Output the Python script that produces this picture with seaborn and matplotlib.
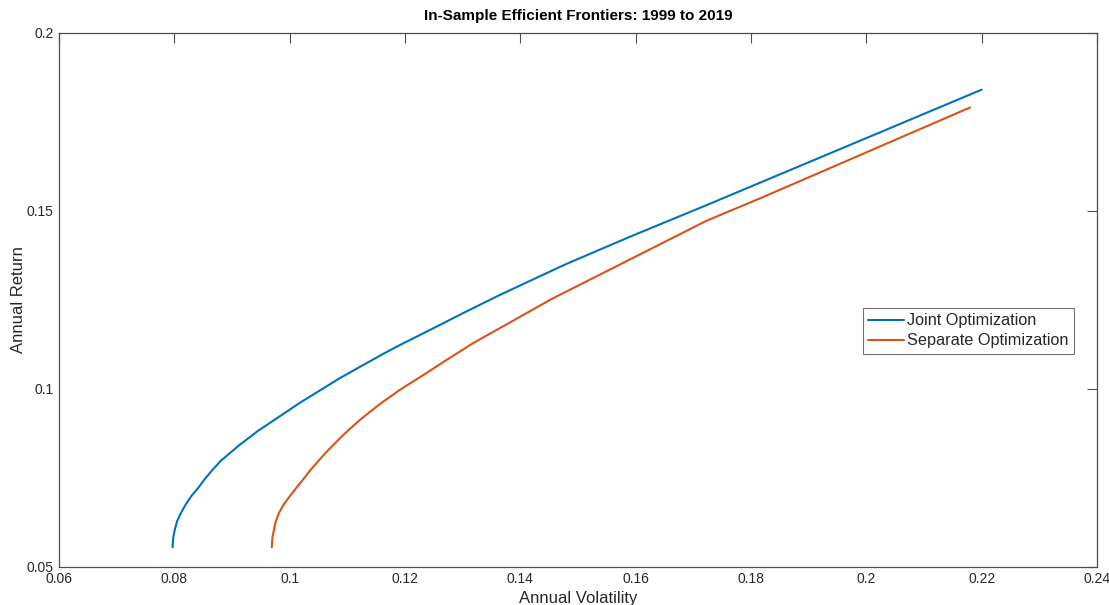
import numpy as np
import pandas as pd
import matplotlib
matplotlib.use("Agg")
import matplotlib.pyplot as plt
from matplotlib.ticker import FormatStrFormatter
import seaborn as sns

joint_vol = [0.0797, 0.0798, 0.0801, 0.0805, 0.0812, 0.0820, 0.0830, 0.0842, 0.0853, 0.0865,
             0.0880, 0.0912, 0.0946, 0.0972, 0.1016, 0.1087, 0.1162, 0.1190, 0.1243,
             0.1305, 0.1365, 0.1479, 0.1590, 0.1710, 0.1816, 0.2200]
joint_ret = [0.0555, 0.0582, 0.0606, 0.0629, 0.0653, 0.0676, 0.0700, 0.0723, 0.0747, 0.0770,
             0.0797, 0.0841, 0.0883, 0.0911, 0.0959, 0.1030, 0.1098, 0.1122, 0.1165,
             0.1216, 0.1264, 0.1350, 0.1427, 0.1507, 0.1579, 0.1840]
sep_vol = [0.0969, 0.0970, 0.0973, 0.0976, 0.0982, 0.0990, 0.1001, 0.1012, 0.1024, 0.1035,
           0.1061, 0.1087, 0.1102, 0.1122, 0.1157, 0.1191, 0.1232, 0.1272, 0.1318,
           0.1454, 0.1723, 0.1816, 0.2180]
sep_ret = [0.0555, 0.0582, 0.0606, 0.0629, 0.0653, 0.0676, 0.0700, 0.0723, 0.0747, 0.0770,
           0.0818, 0.0861, 0.0884, 0.0913, 0.0958, 0.0997, 0.1039, 0.1081, 0.1128,
           0.1252, 0.1472, 0.1535, 0.1790]
series_names = ["Joint Optimization", "Separate Optimization"]
x_ticks = [0.06, 0.08, 0.10, 0.12, 0.14, 0.16, 0.18, 0.20, 0.22, 0.24]
y_ticks = [0.05, 0.10, 0.15, 0.20]

df = pd.concat([
    pd.DataFrame({"vol": joint_vol, "ret": joint_ret, "series": series_names[0]}),
    pd.DataFrame({"vol": sep_vol, "ret": sep_ret, "series": series_names[1]}),
])

sns.set_style("white")
plt.rcParams['font.family'] = ['Liberation Sans', 'DejaVu Sans']

fig = plt.figure(figsize=(11.09, 6.05), dpi=100)
ax = fig.add_axes([0.0532, 0.0630, 0.9360, 0.8830])
sns.lineplot(data=df, x="vol", y="ret", hue="series", sort=False, estimator=None,
             palette=["#0072BD", "#D95319"], linewidth=1.5, ax=ax)

ax.set_xlim(0.06, 0.24)
ax.set_ylim(0.05, 0.20)
ax.set_xticks(x_ticks)
ax.set_yticks(y_ticks)
ax.xaxis.set_major_formatter(FormatStrFormatter('%g'))
ax.yaxis.set_major_formatter(FormatStrFormatter('%g'))
ax.tick_params(direction='in', length=7, width=0.8, color='#4d4d4d', labelsize=10,
               labelcolor='#262626', top=True, right=True, pad=4)
for s in ax.spines.values():
    s.set_color('#4d4d4d')
    s.set_linewidth(0.9)

ax.set_xlabel("Annual Volatility", fontsize=12, color='#262626', labelpad=3)
ax.set_ylabel("Annual Return", fontsize=12, color='#262626', labelpad=0)
ax.set_title("In-Sample Efficient Frontiers: 1999 to 2019", fontsize=11, fontweight='bold',
             color='#000000', pad=9)

leg = ax.legend(loc='upper left', bbox_to_anchor=(0.7743, 0.485), fontsize=11.7,
                frameon=True, fancybox=False, handlelength=2.2, handletextpad=0.15,
                borderpad=0.35, labelspacing=0.3, borderaxespad=0)
leg.get_frame().set_edgecolor('#4d4d4d')
leg.get_frame().set_linewidth(0.8)
for t in leg.get_texts():
    t.set_color('#262626')

fig.savefig("out.png", dpi=100)
